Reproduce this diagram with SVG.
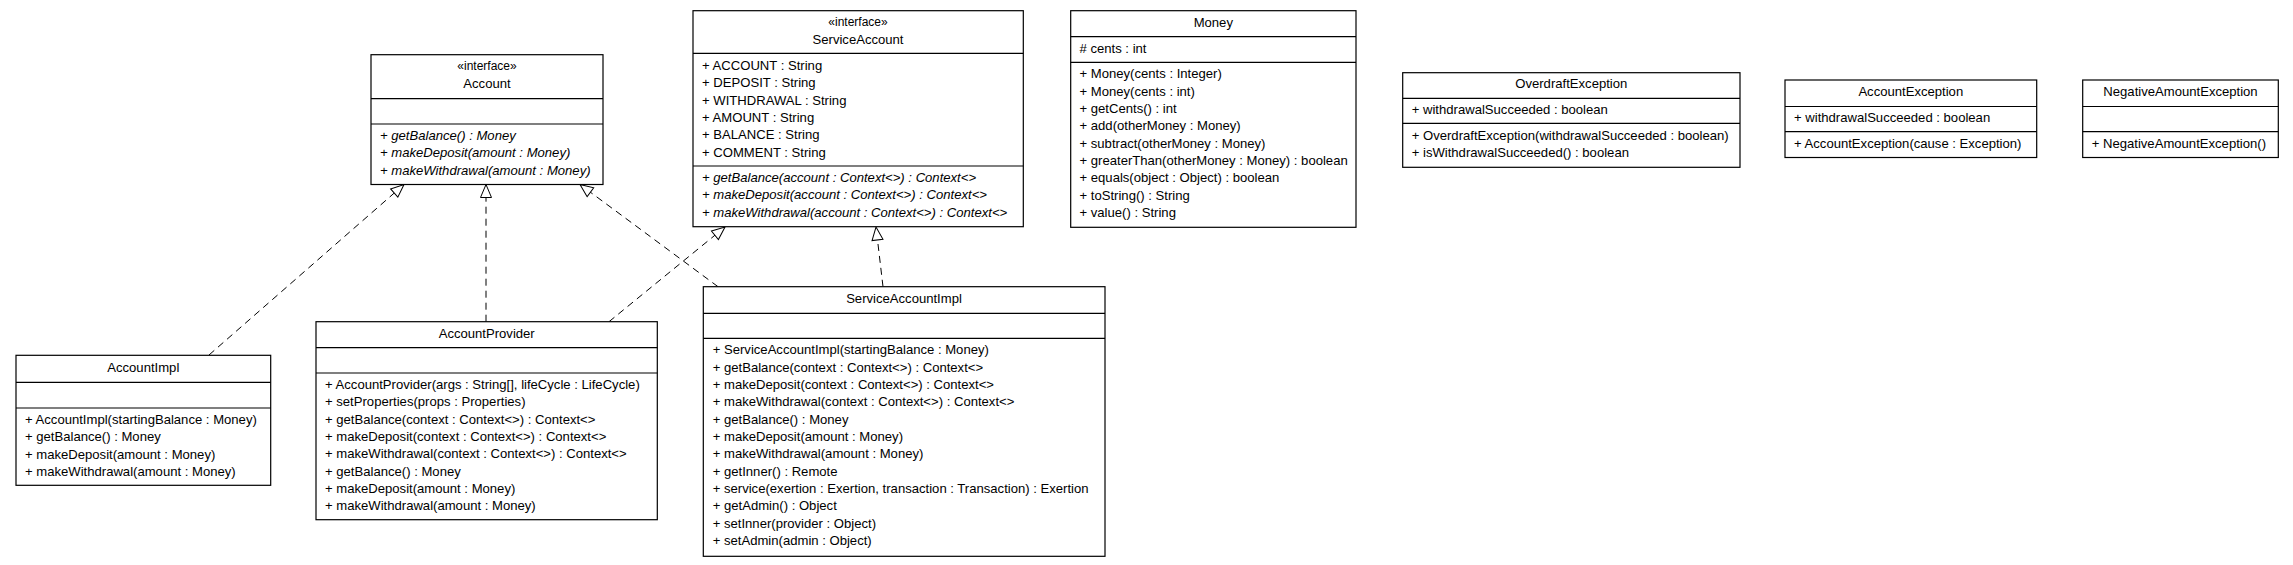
<svg xmlns="http://www.w3.org/2000/svg" width="2293" height="565" viewBox="0 0 2293 565">
<style>
.box{fill:#fff;stroke:#000;stroke-width:1.2}
.sep{stroke:#000;stroke-width:1.2}
text{font-family:"Liberation Sans",Arial,sans-serif;font-size:13.1px;fill:#000}
.c{text-anchor:middle}
.st{font-size:12px}
.i{font-style:italic}
.dep{fill:none;stroke:#000;stroke-width:1;stroke-dasharray:7,5}
</style>
<defs>
<marker id="tri" markerWidth="16" markerHeight="14" refX="14" refY="7" orient="auto" markerUnits="userSpaceOnUse">
<path d="M1,1.5 L14,7 L1,12.5 Z" fill="#fff" stroke="#000" stroke-width="1" stroke-dasharray="none"/>
</marker>
</defs>
<g id="connectors">
<path class="dep" d="M209,355 L404,184.5" marker-end="url(#tri)"/>
<path class="dep" d="M486,321.7 L486,184.5" marker-end="url(#tri)"/>
<path class="dep" d="M609,321.7 L725,227" marker-end="url(#tri)"/>
<path class="dep" d="M718,286.7 L580,184.5" marker-end="url(#tri)"/>
<path class="dep" d="M883,286.7 L876,227" marker-end="url(#tri)"/>
</g>
<g id="Account">
<rect class="box" x="371" y="54.7" width="232" height="129.8"/>
<line class="sep" x1="371" y1="98.7" x2="603" y2="98.7"/>
<line class="sep" x1="371" y1="124" x2="603" y2="124"/>
<text class="c st" x="487" y="69.5">«interface»</text>
<text class="c" x="487" y="88">Account</text>
<text class="i" x="380" y="140">+ getBalance() : Money</text>
<text class="i" x="380" y="157.3">+ makeDeposit(amount : Money)</text>
<text class="i" x="380" y="174.7">+ makeWithdrawal(amount : Money)</text>
</g>
<g id="ServiceAccount">
<rect class="box" x="693" y="10.7" width="330.3" height="216"/>
<line class="sep" x1="693" y1="53.3" x2="1023.3" y2="53.3"/>
<line class="sep" x1="693" y1="166" x2="1023.3" y2="166"/>
<text class="c st" x="858" y="26">«interface»</text>
<text class="c" x="858" y="44.3">ServiceAccount</text>
<text x="702" y="70">+ ACCOUNT : String</text>
<text x="702" y="87.3">+ DEPOSIT : String</text>
<text x="702" y="104.7">+ WITHDRAWAL : String</text>
<text x="702" y="122">+ AMOUNT : String</text>
<text x="702" y="139.3">+ BALANCE : String</text>
<text x="702" y="156.7">+ COMMENT : String</text>
<text class="i" x="702" y="182">+ getBalance(account : Context&lt;&gt;) : Context&lt;&gt;</text>
<text class="i" x="702" y="199.3">+ makeDeposit(account : Context&lt;&gt;) : Context&lt;&gt;</text>
<text class="i" x="702" y="216.7">+ makeWithdrawal(account : Context&lt;&gt;) : Context&lt;&gt;</text>
</g>
<g id="Money">
<rect class="box" x="1070.7" y="10.7" width="285.3" height="216.6"/>
<line class="sep" x1="1070.7" y1="36.7" x2="1356" y2="36.7"/>
<line class="sep" x1="1070.7" y1="62.3" x2="1356" y2="62.3"/>
<text class="c" x="1213.3" y="26.7">Money</text>
<text x="1079.5" y="52.7"># cents : int</text>
<text x="1079.5" y="78.3">+ Money(cents : Integer)</text>
<text x="1079.5" y="95.6">+ Money(cents : int)</text>
<text x="1079.5" y="113">+ getCents() : int</text>
<text x="1079.5" y="130.3">+ add(otherMoney : Money)</text>
<text x="1079.5" y="147.6">+ subtract(otherMoney : Money)</text>
<text x="1079.5" y="165">+ greaterThan(otherMoney : Money) : boolean</text>
<text x="1079.5" y="182.3">+ equals(object : Object) : boolean</text>
<text x="1079.5" y="199.6">+ toString() : String</text>
<text x="1079.5" y="217">+ value() : String</text>
</g>
<g id="OverdraftException">
<rect class="box" x="1402.7" y="72.7" width="337.3" height="94.6"/>
<line class="sep" x1="1402.7" y1="98.3" x2="1740" y2="98.3"/>
<line class="sep" x1="1402.7" y1="123.3" x2="1740" y2="123.3"/>
<text class="c" x="1571.3" y="88.3">OverdraftException</text>
<text x="1411.7" y="114.3">+ withdrawalSucceeded : boolean</text>
<text x="1411.7" y="139.7">+ OverdraftException(withdrawalSucceeded : boolean)</text>
<text x="1411.7" y="157">+ isWithdrawalSucceeded() : boolean</text>
</g>
<g id="AccountException">
<rect class="box" x="1785" y="80" width="251.7" height="77.5"/>
<line class="sep" x1="1785" y1="106.5" x2="2036.7" y2="106.5"/>
<line class="sep" x1="1785" y1="131.7" x2="2036.7" y2="131.7"/>
<text class="c" x="1910.8" y="96.3">AccountException</text>
<text x="1794" y="122.3">+ withdrawalSucceeded : boolean</text>
<text x="1794" y="148">+ AccountException(cause : Exception)</text>
</g>
<g id="NegativeAmountException">
<rect class="box" x="2082.7" y="80" width="195.6" height="77.5"/>
<line class="sep" x1="2082.7" y1="106.5" x2="2278.3" y2="106.5"/>
<line class="sep" x1="2082.7" y1="131.7" x2="2278.3" y2="131.7"/>
<text class="c" x="2180.5" y="96.3">NegativeAmountException</text>
<text x="2091.7" y="148">+ NegativeAmountException()</text>
</g>
<g id="AccountImpl">
<rect class="box" x="16" y="355.3" width="254.7" height="130"/>
<line class="sep" x1="16" y1="382.3" x2="270.7" y2="382.3"/>
<line class="sep" x1="16" y1="408" x2="270.7" y2="408"/>
<text class="c" x="143.3" y="372">AccountImpl</text>
<text x="25" y="424">+ AccountImpl(startingBalance : Money)</text>
<text x="25" y="441.3">+ getBalance() : Money</text>
<text x="25" y="458.7">+ makeDeposit(amount : Money)</text>
<text x="25" y="476">+ makeWithdrawal(amount : Money)</text>
</g>
<g id="AccountProvider">
<rect class="box" x="316" y="321.7" width="341.3" height="198"/>
<line class="sep" x1="316" y1="347.7" x2="657.3" y2="347.7"/>
<line class="sep" x1="316" y1="373" x2="657.3" y2="373"/>
<text class="c" x="486.7" y="337.7">AccountProvider</text>
<text x="325" y="389">+ AccountProvider(args : String[], lifeCycle : LifeCycle)</text>
<text x="325" y="406.3">+ setProperties(props : Properties)</text>
<text x="325" y="423.7">+ getBalance(context : Context&lt;&gt;) : Context&lt;&gt;</text>
<text x="325" y="441">+ makeDeposit(context : Context&lt;&gt;) : Context&lt;&gt;</text>
<text x="325" y="458.3">+ makeWithdrawal(context : Context&lt;&gt;) : Context&lt;&gt;</text>
<text x="325" y="475.7">+ getBalance() : Money</text>
<text x="325" y="493">+ makeDeposit(amount : Money)</text>
<text x="325" y="510.3">+ makeWithdrawal(amount : Money)</text>
</g>
<g id="ServiceAccountImpl">
<rect class="box" x="703.3" y="286.7" width="401.7" height="269.6"/>
<line class="sep" x1="703.3" y1="313.3" x2="1105" y2="313.3"/>
<line class="sep" x1="703.3" y1="338.3" x2="1105" y2="338.3"/>
<text class="c" x="904" y="303.3">ServiceAccountImpl</text>
<text x="712.7" y="354.3">+ ServiceAccountImpl(startingBalance : Money)</text>
<text x="712.7" y="371.6">+ getBalance(context : Context&lt;&gt;) : Context&lt;&gt;</text>
<text x="712.7" y="389">+ makeDeposit(context : Context&lt;&gt;) : Context&lt;&gt;</text>
<text x="712.7" y="406.3">+ makeWithdrawal(context : Context&lt;&gt;) : Context&lt;&gt;</text>
<text x="712.7" y="423.6">+ getBalance() : Money</text>
<text x="712.7" y="441">+ makeDeposit(amount : Money)</text>
<text x="712.7" y="458.3">+ makeWithdrawal(amount : Money)</text>
<text x="712.7" y="475.6">+ getInner() : Remote</text>
<text x="712.7" y="493">+ service(exertion : Exertion, transaction : Transaction) : Exertion</text>
<text x="712.7" y="510.3">+ getAdmin() : Object</text>
<text x="712.7" y="527.6">+ setInner(provider : Object)</text>
<text x="712.7" y="545">+ setAdmin(admin : Object)</text>
</g>
</svg>
